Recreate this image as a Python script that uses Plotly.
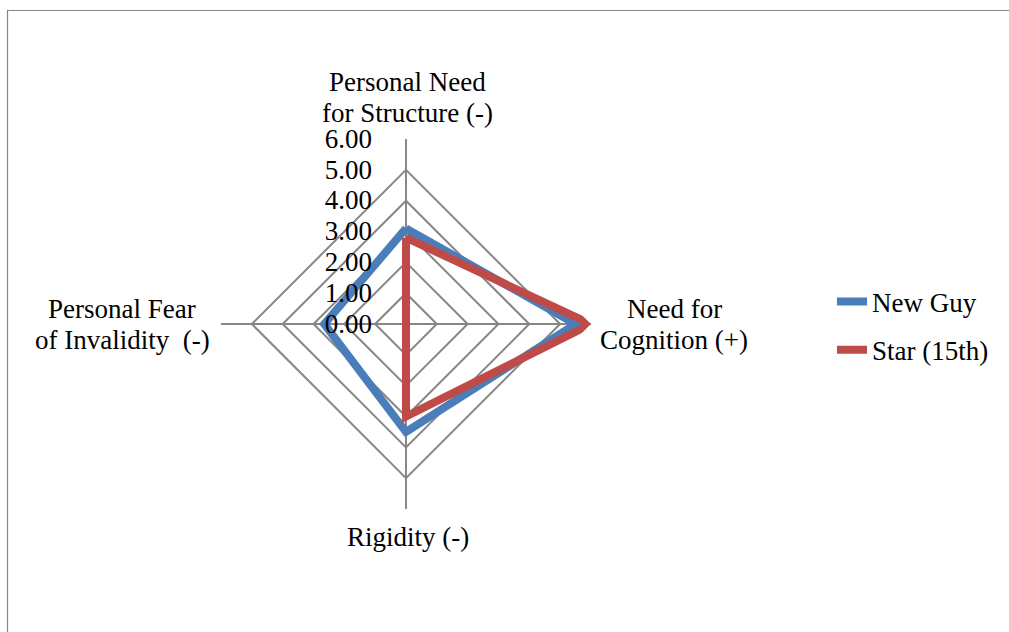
import plotly.graph_objects as go

categories = ["Personal Need<br>for Structure (-)", "Need for<br>Cognition (+)",
              "Rigidity (-)", "Personal Fear<br>of Invalidity  (-)"]
new_guy = [3.1, 5.5, 3.5, 2.65]
star_15th = [2.8, 6.0, 3.0, 0.0]
radial_ticks = [0, 1, 2, 3, 4, 5, 6]

GRID = "#868686"
FONT = "Liberation Serif"
FS = 27
W, H = 1009, 632

fig = go.Figure()
for i, (name, vals, color) in enumerate([("New Guy", new_guy, "#4a7ebb"),
                                          ("Star (15th)", star_15th, "#be4b48")]):
    fig.add_trace(go.Scatterpolar(
        r=vals + vals[:1], theta=categories + categories[:1], name=name, mode="lines",
        legendgroup=f"g{i}", line=dict(color=color, width=8), hoverinfo="r+theta+name"))

# category captions around the diamond, one annotation per text line
label_pos = [(407, 82), (674, 309), (408, 537), (122, 309)]
annotations = []
for cat, (cx, cy) in zip(categories, label_pos):
    for k, line in enumerate(cat.split("<br>")):
        annotations.append(dict(text=line, xref="paper", yref="paper",
                                x=cx / W, y=1 - (cy + 31 * k) / H,
                                xanchor="center", yanchor="middle", showarrow=False,
                                font=dict(family=FONT, size=FS, color="black")))

fig.update_layout(
    width=W, height=H, margin=dict(l=0, r=0, t=0, b=0),
    paper_bgcolor="white", plot_bgcolor="white",
    font=dict(family=FONT, size=FS, color="black"),
    polar=dict(
        domain=dict(x=[0.219, 0.5857], y=[0.1946, 0.780]),
        gridshape="linear", bgcolor="white",
        angularaxis=dict(rotation=90, direction="clockwise", showline=False,
                         gridcolor=GRID, gridwidth=1.5, ticks="", showticklabels=False),
        radialaxis=dict(range=[0, 6], tickvals=radial_ticks, tickformat=".2f",
                        angle=90, tickangle=90, side="counterclockwise", showline=False,
                        gridcolor=GRID, gridwidth=1.5, ticks="outside", ticklen=24,
                        tickcolor="rgba(0,0,0,0)",
                        tickfont=dict(family=FONT, size=FS)),
    ),
    showlegend=True,
    legend=dict(x=832 / W, y=1 - 326 / H, xanchor="left", yanchor="middle",
                tracegroupgap=10, font=dict(family=FONT, size=FS),
                bgcolor="rgba(0,0,0,0)"),
    annotations=annotations,
    shapes=[dict(type="rect", xref="paper", yref="paper", x0=7.5 / W, x1=1.01, y0=-0.01,
                 y1=1 - 10.5 / H, line=dict(color=GRID, width=1.2))],
)

fig.write_html("out.html")
